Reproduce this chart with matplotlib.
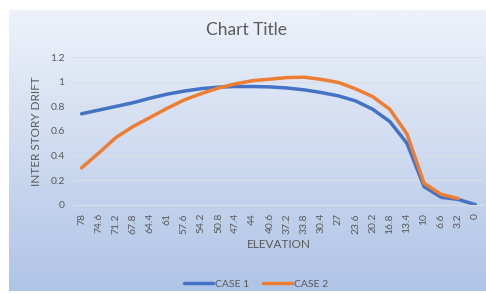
import numpy as np
import matplotlib
matplotlib.use("Agg")
import matplotlib.pyplot as plt
from matplotlib.colors import LinearSegmentedColormap

plt.rcParams["font.family"] = ["Lato", "DejaVu Sans"]

elevation = ["78", "74.6", "71.2", "67.8", "64.4", "61", "57.6", "54.2", "50.8", "47.4",
             "44", "40.6", "37.2", "33.8", "30.4", "27", "23.6", "20.2", "16.8", "13.4",
             "10", "6.6", "3.2", "0"]
case1 = [0.74, 0.77, 0.80, 0.83, 0.867, 0.90, 0.925, 0.945, 0.957, 0.962,
         0.962, 0.959, 0.95, 0.935, 0.913, 0.886, 0.845, 0.777, 0.677, 0.50,
         0.147, 0.06, 0.043, 0.0]
case2 = [0.30, 0.42, 0.546, 0.636, 0.71, 0.785, 0.853, 0.905, 0.95, 0.984,
         1.01, 1.022, 1.035, 1.038, 1.02, 0.995, 0.943, 0.88, 0.777, 0.576,
         0.174, 0.084, 0.05]

W, H = 486, 293
fig = plt.figure(figsize=(W / 100, H / 100), dpi=100)

# gradient background of the chart box
bg = fig.add_axes([9 / W, 1 - 291 / H, 476 / W, 281 / H])
cmap = LinearSegmentedColormap.from_list("g", ["#eef2fa", "#afc4e6"])
bg.imshow(np.linspace(0, 1, 256).reshape(-1, 1), aspect="auto", cmap=cmap,
          extent=[0, 1, 0, 1])
bg.axis("off")

ax = fig.add_axes([73 / W, 1 - 204.7 / H, (484 - 73) / W, (204.7 - 57.3) / H])
ax.patch.set_alpha(0)
x = np.arange(len(elevation))
ax.plot(x, case1, color="#4472c4", lw=2.5, label="CASE 1", solid_capstyle="round")
ax.plot(x[:len(case2)], case2, color="#ed7d31", lw=2.5, label="CASE 2",
        solid_capstyle="round")

ax.set_xlim(-0.5, len(elevation) - 0.5)
ax.set_ylim(0, 1.2)
ax.set_yticks(np.arange(0, 1.21, 0.2))
ax.set_yticklabels(["0", "0.2", "0.4", "0.6", "0.8", "1", "1.2"])
ax.set_xticks(x)
ax.set_xticklabels(elevation, rotation=90)
ax.grid(axis="y", color="#d9dde6", lw=0.9)
ax.set_axisbelow(True)
for s in ax.spines.values():
    s.set_visible(False)
ax.spines["bottom"].set_visible(True)
ax.spines["bottom"].set_color("#d9dde6")
ax.tick_params(length=0, labelsize=7.5, colors="#595959", pad=6)

ax.set_xlabel("ELEVATION", fontsize=8.5, color="#595959", labelpad=4)
ax.set_ylabel("INTER STORY DRIFT", fontsize=8.5, color="#595959", labelpad=6)
fig.text(0.5 * (9 + 485) / W, 1 - 30 / H, "Chart Title", ha="center", va="center",
         fontsize=12.5, color="#595959")

fig.legend(loc="center", bbox_to_anchor=(256 / W, 1 - 284 / H), ncol=2, frameon=False,
           fontsize=7.5, labelcolor="#595959", handlelength=2.8, handletextpad=0.2,
           columnspacing=1.3)

fig.savefig("out.png", dpi=100)
